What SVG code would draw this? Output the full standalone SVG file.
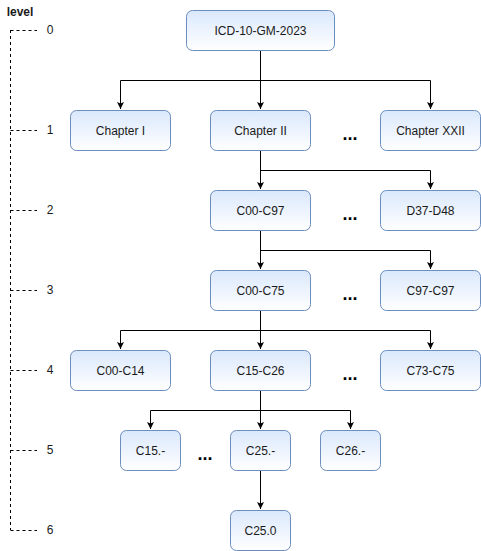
<svg xmlns="http://www.w3.org/2000/svg" width="481" height="551" viewBox="0 0 481 551">
<defs>
<linearGradient id="g" x1="0" y1="0" x2="0" y2="1">
<stop offset="0" stop-color="#dae8fc"/>
<stop offset="1" stop-color="#ffffff"/>
</linearGradient>
<marker id="arr" markerWidth="8" markerHeight="8" refX="7" refY="4" orient="auto" markerUnits="userSpaceOnUse">
<path d="M0,0.5 L7,4 L0,7.5 L1.5,4 Z" fill="#000"/>
</marker>
<style>
.n rect{fill:url(#g);stroke:#6c8ebf;stroke-width:1}
.n text{font-family:"Liberation Sans",Arial,sans-serif;font-size:12px;fill:#1a1a1a;text-anchor:middle}
.c path{fill:none;stroke:#000;stroke-width:1;marker-end:url(#arr)}
.lv path{fill:none;stroke:#000;stroke-width:1;stroke-dasharray:3,3}
.lv text{font-family:"Liberation Sans",Arial,sans-serif;font-size:12px;fill:#1a1a1a;text-anchor:middle}
.dots{font-family:"Liberation Sans",Arial,sans-serif;font-size:18px;font-weight:bold;fill:#000;text-anchor:middle}
</style>
</defs>
<rect width="481" height="551" fill="#fff"/>
<g id="levels" class="lv">
<text x="20" y="16" style="font-weight:bold;text-anchor:middle">level</text>
<path d="M10.5,30 V530"/>
<path d="M10.5,30.5 H37 M10.5,130.5 H37 M10.5,210.5 H37 M10.5,290.5 H37 M10.5,370.5 H37 M10.5,450.5 H37 M10.5,530.5 H37"/>
<text x="50" y="34">0</text>
<text x="50" y="134">1</text>
<text x="50" y="214">2</text>
<text x="50" y="294">3</text>
<text x="50" y="374">4</text>
<text x="50" y="454">5</text>
<text x="50" y="534">6</text>
</g>
<g id="connectors" class="c">
<path d="M260.5,50 V80.5 H120.5 V109"/>
<path d="M260.5,50 V109"/>
<path d="M260.5,80.5 H430.5 V109"/>
<path d="M260.5,150 V189"/>
<path d="M260.5,170.5 H430.5 V189"/>
<path d="M260.5,230 V269"/>
<path d="M260.5,250.5 H430.5 V269"/>
<path d="M260.5,310 V349"/>
<path d="M260.5,330.5 H120.5 V349"/>
<path d="M260.5,330.5 H430.5 V349"/>
<path d="M260.5,390 V429"/>
<path d="M260.5,410.5 H150.5 V429"/>
<path d="M260.5,410.5 H350.5 V429"/>
<path d="M260.5,470 V509"/>
</g>
<g id="root" class="n"><rect x="186.5" y="10.5" width="148" height="40" rx="6"/><text x="260.5" y="35">ICD-10-GM-2023</text></g>
<g id="ch1" class="n"><rect x="70.5" y="110.5" width="100" height="40" rx="6"/><text x="120.5" y="135">Chapter I</text></g>
<g id="ch2" class="n"><rect x="210.5" y="110.5" width="100" height="40" rx="6"/><text x="260.5" y="135">Chapter II</text></g>
<g id="ch22" class="n"><rect x="380.5" y="110.5" width="100" height="40" rx="6"/><text x="430.5" y="135">Chapter XXII</text></g>
<g id="c00c97" class="n"><rect x="210.5" y="190.5" width="100" height="40" rx="6"/><text x="260.5" y="215">C00-C97</text></g>
<g id="d37d48" class="n"><rect x="380.5" y="190.5" width="100" height="40" rx="6"/><text x="430.5" y="215">D37-D48</text></g>
<g id="c00c75" class="n"><rect x="210.5" y="270.5" width="100" height="40" rx="6"/><text x="260.5" y="295">C00-C75</text></g>
<g id="c97c97" class="n"><rect x="380.5" y="270.5" width="100" height="40" rx="6"/><text x="430.5" y="295">C97-C97</text></g>
<g id="c00c14" class="n"><rect x="70.5" y="350.5" width="100" height="40" rx="6"/><text x="120.5" y="375">C00-C14</text></g>
<g id="c15c26" class="n"><rect x="210.5" y="350.5" width="100" height="40" rx="6"/><text x="260.5" y="375">C15-C26</text></g>
<g id="c73c75" class="n"><rect x="380.5" y="350.5" width="100" height="40" rx="6"/><text x="430.5" y="375">C73-C75</text></g>
<g id="c15" class="n"><rect x="120.5" y="430.5" width="60" height="40" rx="6"/><text x="150.5" y="455">C15.-</text></g>
<g id="c25" class="n"><rect x="230.5" y="430.5" width="60" height="40" rx="6"/><text x="260.5" y="455">C25.-</text></g>
<g id="c26" class="n"><rect x="320.5" y="430.5" width="60" height="40" rx="6"/><text x="350.5" y="455">C26.-</text></g>
<g id="c250" class="n"><rect x="230.5" y="510.5" width="60" height="40" rx="6"/><text x="260.5" y="535">C25.0</text></g>
<g id="ellipses">
<text class="dots" x="350" y="140">...</text>
<text class="dots" x="350" y="220">...</text>
<text class="dots" x="350" y="300">...</text>
<text class="dots" x="350" y="380">...</text>
<text class="dots" x="205" y="460">...</text>
</g>
</svg>
